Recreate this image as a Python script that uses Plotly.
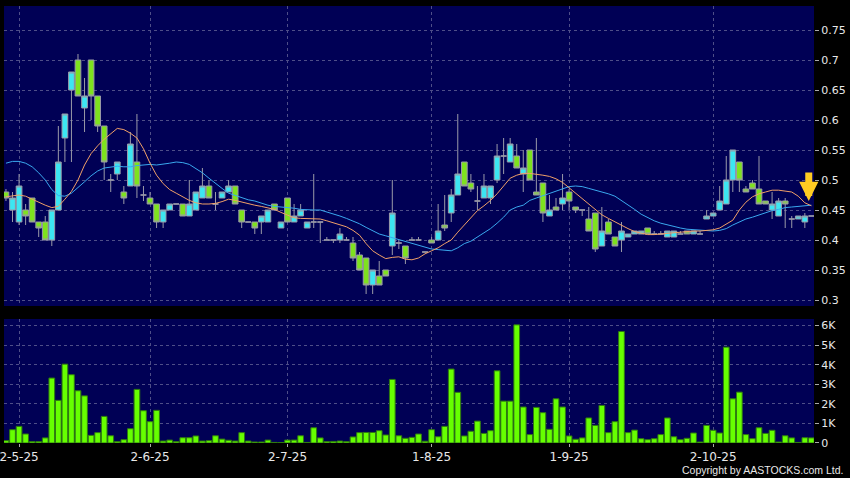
import pandas as pd
import plotly.graph_objects as go
from plotly.subplots import make_subplots

# trading days (HK), 29 Apr 2025 - 24 Oct 2025
holidays = ['2025-05-01', '2025-05-05', '2025-07-01', '2025-10-01', '2025-10-07']
days = [d.strftime('%Y-%m-%d') for d in pd.bdate_range('2025-04-29', '2025-10-24')]
days = [d for d in days if d not in holidays]

tick_days = ['2025-05-02', '2025-06-02', '2025-07-02', '2025-08-01', '2025-09-01', '2025-10-02']
tick_text = ['2-5-25', '2-6-25', '2-7-25', '1-8-25', '1-9-25', '2-10-25']

price_ticks = [0.3, 0.35, 0.4, 0.45, 0.5, 0.55, 0.6, 0.65, 0.7, 0.75]
price_text = ['0.3', '0.35', '0.4', '0.45', '0.5', '0.55', '0.6', '0.65', '0.7', '0.75']
vol_ticks = [0, 1000, 2000, 3000, 4000, 5000, 6000]
vol_text = ['0', '1K', '2K', '3K', '4K', '5K', '6K']

opens = [0.48, 0.45, 0.43, 0.45, 0.47, 0.43, 0.43, 0.40, 0.45, 0.57,
         0.65, 0.70, 0.62, 0.70, 0.64, 0.59, 0.50, 0.51, 0.48, 0.49,
         0.53, 0.475, 0.47, 0.46, 0.43, 0.45, 0.46, 0.46, 0.44, 0.45,
         0.47, 0.49, 0.46, 0.47, 0.48, 0.49, 0.45, 0.43, 0.43, 0.43,
         0.43, 0.46, 0.42, 0.47, 0.43, 0.44, 0.42, 0.43, 0.43, 0.40,
         0.40, 0.40, 0.40, 0.395, 0.375, 0.37, 0.325, 0.34, 0.35, 0.39,
         0.395, 0.39, 0.40, 0.40, 0.38, 0.40, 0.40, 0.425, 0.445, 0.475,
         0.53, 0.495, 0.465, 0.47, 0.47, 0.50, 0.54, 0.53, 0.54, 0.51,
         0.55, 0.48, 0.495, 0.44, 0.455, 0.46, 0.48, 0.455, 0.45, 0.435,
         0.445, 0.39, 0.43, 0.405, 0.40, 0.405, 0.41, 0.41, 0.42, 0.41,
         0.41, 0.405, 0.405, 0.41, 0.415, 0.41, 0.41, 0.435, 0.44, 0.45,
         0.46, 0.50, 0.53, 0.485, 0.495, 0.485, 0.465, 0.45, 0.44, 0.465,
         0.435, 0.435, 0.43, 0.44]
highs = [0.485, 0.48, 0.51, 0.46, 0.47, 0.43, 0.44, 0.45, 0.59, 0.61,
         0.68, 0.71, 0.67, 0.70, 0.64, 0.59, 0.51, 0.53, 0.49, 0.58,
         0.61, 0.49, 0.48, 0.46, 0.45, 0.46, 0.46, 0.46, 0.50, 0.48,
         0.52, 0.50, 0.48, 0.48, 0.50, 0.49, 0.45, 0.43, 0.43, 0.44,
         0.45, 0.46, 0.43, 0.47, 0.46, 0.46, 0.43, 0.51, 0.43, 0.405,
         0.40, 0.42, 0.405, 0.405, 0.38, 0.37, 0.35, 0.365, 0.35, 0.50,
         0.40, 0.39, 0.405, 0.405, 0.38, 0.405, 0.46, 0.475, 0.485, 0.61,
         0.53, 0.51, 0.49, 0.51, 0.49, 0.56, 0.57, 0.57, 0.56, 0.55,
         0.55, 0.57, 0.495, 0.475, 0.47, 0.51, 0.485, 0.455, 0.45, 0.455,
         0.445, 0.455, 0.435, 0.405, 0.43, 0.41, 0.415, 0.415, 0.42, 0.415,
         0.415, 0.415, 0.415, 0.415, 0.415, 0.415, 0.415, 0.45, 0.445, 0.49,
         0.54, 0.55, 0.53, 0.49, 0.50, 0.54, 0.465, 0.48, 0.47, 0.47,
         0.44, 0.44, 0.445, 0.44]
lows = [0.465, 0.43, 0.425, 0.425, 0.43, 0.405, 0.40, 0.39, 0.45, 0.53,
        0.53, 0.64, 0.58, 0.60, 0.58, 0.50, 0.48, 0.50, 0.46, 0.49,
        0.47, 0.465, 0.46, 0.42, 0.42, 0.45, 0.46, 0.44, 0.44, 0.45,
        0.47, 0.47, 0.45, 0.47, 0.48, 0.46, 0.42, 0.43, 0.41, 0.41,
        0.43, 0.45, 0.42, 0.43, 0.43, 0.44, 0.42, 0.42, 0.395, 0.40,
        0.395, 0.395, 0.40, 0.365, 0.35, 0.31, 0.31, 0.325, 0.34, 0.375,
        0.385, 0.36, 0.40, 0.40, 0.38, 0.395, 0.40, 0.415, 0.43, 0.475,
        0.49, 0.48, 0.45, 0.47, 0.46, 0.495, 0.51, 0.53, 0.52, 0.48,
        0.50, 0.475, 0.43, 0.44, 0.45, 0.45, 0.45, 0.445, 0.44, 0.415,
        0.38, 0.39, 0.41, 0.39, 0.38, 0.405, 0.41, 0.41, 0.41, 0.41,
        0.41, 0.405, 0.405, 0.41, 0.41, 0.41, 0.41, 0.435, 0.44, 0.45,
        0.46, 0.48, 0.48, 0.48, 0.485, 0.46, 0.46, 0.435, 0.44, 0.42,
        0.42, 0.435, 0.42, 0.44]
closes = [0.47, 0.47, 0.49, 0.44, 0.43, 0.42, 0.40, 0.45, 0.53, 0.61,
          0.68, 0.64, 0.64, 0.64, 0.59, 0.53, 0.50, 0.53, 0.47, 0.56,
          0.49, 0.475, 0.46, 0.43, 0.45, 0.46, 0.46, 0.44, 0.46, 0.48,
          0.49, 0.47, 0.46, 0.48, 0.49, 0.46, 0.43, 0.43, 0.42, 0.44,
          0.45, 0.45, 0.43, 0.43, 0.44, 0.45, 0.43, 0.43, 0.43, 0.40,
          0.40, 0.41, 0.40, 0.37, 0.35, 0.325, 0.35, 0.325, 0.34, 0.445,
          0.395, 0.37, 0.40, 0.40, 0.38, 0.395, 0.415, 0.42, 0.475, 0.51,
          0.49, 0.485, 0.465, 0.49, 0.49, 0.54, 0.54, 0.56, 0.52, 0.52,
          0.50, 0.475, 0.445, 0.45, 0.45, 0.47, 0.465, 0.45, 0.45, 0.415,
          0.385, 0.415, 0.41, 0.39, 0.415, 0.41, 0.415, 0.415, 0.41, 0.41,
          0.41, 0.415, 0.415, 0.41, 0.41, 0.415, 0.41, 0.44, 0.445, 0.465,
          0.50, 0.55, 0.50, 0.48, 0.485, 0.46, 0.46, 0.46, 0.465, 0.46,
          0.435, 0.44, 0.44, 0.44]

# moving averages as drawn on the chart (10-day orange, 20-day blue)
ma10 = [0.472, 0.473, 0.475, 0.473, 0.468, 0.462, 0.458, 0.454, 0.456, 0.468,
        0.481, 0.500, 0.525, 0.544, 0.557, 0.568, 0.577, 0.586, 0.584, 0.578,
        0.570, 0.552, 0.528, 0.508, 0.494, 0.484, 0.478, 0.472, 0.466, 0.462,
        0.460, 0.460, 0.461, 0.464, 0.468, 0.466, 0.463, 0.460, 0.458, 0.456,
        0.454, 0.451, 0.446, 0.442, 0.437, 0.436, 0.436, 0.436, 0.435, 0.432,
        0.429, 0.426, 0.422, 0.416, 0.408, 0.394, 0.382, 0.375, 0.369, 0.371,
        0.372, 0.368, 0.367, 0.370, 0.377, 0.382, 0.387, 0.394, 0.400, 0.413,
        0.425, 0.438, 0.449, 0.457, 0.466, 0.477, 0.490, 0.503, 0.508, 0.511,
        0.511, 0.510, 0.508, 0.506, 0.502, 0.496, 0.487, 0.477, 0.468, 0.460,
        0.451, 0.442, 0.436, 0.430, 0.425, 0.419, 0.414, 0.411, 0.409, 0.409,
        0.410, 0.411, 0.413, 0.414, 0.414, 0.415, 0.415, 0.416, 0.417, 0.420,
        0.426, 0.433, 0.450, 0.463, 0.472, 0.477, 0.480, 0.483, 0.483, 0.482,
        0.480, 0.473, 0.462, 0.457]
ma20 = [0.528, 0.531, 0.531, 0.528, 0.522, 0.512, 0.500, 0.484, 0.474, 0.473,
        0.478, 0.487, 0.497, 0.507, 0.515, 0.520, 0.522, 0.523, 0.522, 0.522,
        0.524, 0.525, 0.526, 0.525, 0.526, 0.528, 0.530, 0.529, 0.526, 0.519,
        0.512, 0.503, 0.494, 0.486, 0.478, 0.474, 0.470, 0.467, 0.465, 0.461,
        0.458, 0.456, 0.455, 0.455, 0.453, 0.451, 0.450, 0.450, 0.450, 0.447,
        0.444, 0.440, 0.436, 0.432, 0.427, 0.421, 0.416, 0.410, 0.407, 0.404,
        0.401, 0.398, 0.395, 0.391, 0.388, 0.385, 0.384, 0.383, 0.382, 0.387,
        0.394, 0.398, 0.405, 0.413, 0.419, 0.428, 0.438, 0.450, 0.455, 0.458,
        0.466, 0.470, 0.474, 0.477, 0.481, 0.485, 0.489, 0.490, 0.489, 0.486,
        0.483, 0.481, 0.477, 0.473, 0.466, 0.459, 0.451, 0.443, 0.437, 0.432,
        0.428, 0.425, 0.422, 0.420, 0.418, 0.417, 0.416, 0.415, 0.415, 0.416,
        0.419, 0.425, 0.430, 0.435, 0.438, 0.442, 0.445, 0.449, 0.451, 0.454,
        0.455, 0.456, 0.457, 0.458]

volume = [120, 680, 850, 460, 70, 70, 260, 3320, 2180, 4030,
          3490, 2670, 2410, 390, 530, 1360, 370, 70, 170, 730,
          2740, 1650, 1090, 1670, 100, 150, 70, 270, 270, 360,
          100, 120, 370, 200, 140, 100, 530, 100, 50, 50,
          150, 30, 20, 150, 150, 370, 30, 780, 260, 70,
          80, 100, 70, 310, 530, 540, 540, 630, 410, 3250,
          370, 240, 290, 460, 90, 680, 320, 850, 3780, 2590,
          360, 600, 1120, 490, 630, 3690, 2140, 2140, 6040, 1840,
          430, 1820, 1550, 700, 2260, 1840, 360, 190, 260, 1280,
          900, 1920, 530, 1090, 5700, 530, 660, 220, 170, 220,
          430, 1280, 320, 170, 240, 510, 50, 900, 650, 510,
          4900, 2260, 2600, 430, 220, 780, 490, 650, 50, 370,
          260, 30, 270, 260]

NAVY = '#000055'
GRID = '#4e4e88'
TXT = '#e8e8e8'

fig = make_subplots(rows=2, cols=1, shared_xaxes=True)

fig.add_trace(go.Candlestick(
    x=days, open=opens, high=highs, low=lows, close=closes,
    increasing=dict(fillcolor='#3ce6f2', line=dict(color='#9a9aa8', width=1)),
    decreasing=dict(fillcolor='#7ee21e', line=dict(color='#9a9aa8', width=1)),
    hoverinfo='skip', showlegend=False), row=1, col=1)
fig.add_scatter(x=days, y=ma20, mode='lines', line=dict(color='#3aa8ee', width=1),
                hoverinfo='skip', showlegend=False, row=1, col=1)
fig.add_scatter(x=days, y=ma10, mode='lines', line=dict(color='#f0a068', width=1),
                hoverinfo='skip', showlegend=False, row=1, col=1)

fig.add_trace(go.Bar(x=days, y=volume, marker=dict(color='#66ff00', line=dict(color='#2f7a10', width=1)),
                     hoverinfo='skip', showlegend=False), row=2, col=1)

xcommon = dict(type='category', range=[-0.3, 123.4], showgrid=True, gridcolor=GRID,
               griddash='3px,3px', gridwidth=1, tickvals=tick_days, ticktext=tick_text,
               zeroline=False, showline=False, automargin=False)
fig.update_xaxes(**xcommon)
fig.update_xaxes(showticklabels=False, ticks='', rangeslider=dict(visible=False), row=1, col=1)
fig.update_xaxes(ticks='outside', ticklen=3, tickcolor='#aaaaaa',
                 tickfont=dict(family='DejaVu Sans', size=12, color=TXT), row=2, col=1)

ycommon = dict(side='right', showgrid=True, gridcolor=GRID, griddash='3px,3px', gridwidth=1,
               zeroline=False, showline=False, ticks='outside', ticklen=4, tickcolor='#aaaaaa',
               tickfont=dict(family='DejaVu Sans', size=11, color=TXT), automargin=False)
fig.update_yaxes(**ycommon)
fig.update_yaxes(range=[0.29, 0.79], tickvals=price_ticks, ticktext=price_text, row=1, col=1)
fig.update_yaxes(range=[0, 6340], tickvals=vol_ticks, ticktext=vol_text, row=2, col=1)

fig.update_layout(
    width=850, height=478,
    margin=dict(l=4, r=36, t=6, b=35),
    paper_bgcolor='#000000', plot_bgcolor=NAVY,
    boxgap=0.13, boxgroupgap=0, bargap=0.13,
    yaxis=dict(domain=[0.3135, 1.0]),
    yaxis2=dict(domain=[0.0, 0.2838]),
    annotations=[
        dict(text='Copyright by AASTOCKS.com Ltd.', xref='paper', yref='paper',
             x=1.038, y=-0.062, xanchor='right', yanchor='middle', showarrow=False,
             font=dict(family='Liberation Sans', size=10.5, color=TXT)),
        dict(x=len(days) - 1.4, y=ma10[-1] + 0.008, xref='x', yref='y', text='',
             showarrow=True, ax=0, ay=-30, arrowhead=2, arrowsize=0.55, arrowwidth=7,
             arrowcolor='#ffcc22', standoff=0),
    ],
)

fig.write_html('out.html', config={'displayModeBar': False},
               post_script="document.body.style.margin='0';")
